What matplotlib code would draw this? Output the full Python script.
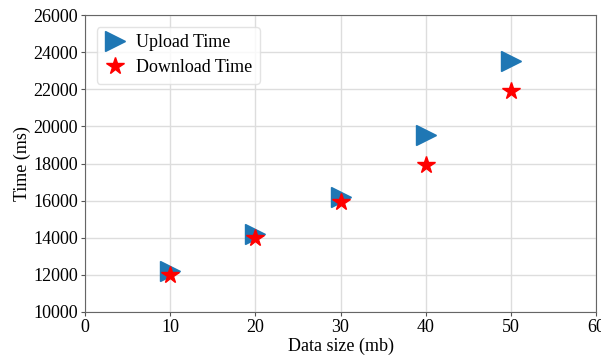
import matplotlib
matplotlib.use("Agg")
import matplotlib.pyplot as plt

plt.rcParams['font.family'] = ['Liberation Serif', 'DejaVu Serif']
plt.rcParams['mathtext.fontset'] = 'stix'

data_size = [10, 20, 30, 40, 50]
upload_time = [12200, 14200, 16200, 19550, 23500]
download_time = [12000, 14000, 15900, 17900, 21900]

fig = plt.figure(figsize=(6.01, 3.58), dpi=100)
ax = fig.add_axes([85 / 601, 1 - 312 / 358, 511 / 601, 297 / 358])

ax.plot(data_size, upload_time, linestyle='none', marker='>', markersize=14.5,
        color='#1f77b4', label='Upload Time')
ax.plot(data_size, download_time, linestyle='none', marker='*', markersize=13,
        color='red', label='Download Time')

ax.set_xlim(0, 60)
ax.set_ylim(10000, 26000)
ax.set_xticks([0, 10, 20, 30, 40, 50, 60])
ax.set_yticks(range(10000, 26001, 2000))
ax.tick_params(labelsize=13, length=3, color='#555555', pad=2)
ax.grid(True, color='#dddddd', linewidth=1)
ax.set_axisbelow(True)
for s in ax.spines.values():
    s.set_color('#666666')

ax.set_xlabel('Data size (mb)', fontsize=13, labelpad=1)
ax.set_ylabel('Time (ms)', fontsize=13, labelpad=2)
ax.legend(loc='upper left', fontsize=13, handlelength=1.2, handletextpad=0.6,
          borderpad=0.4, labelspacing=0.45, framealpha=0.8,
          edgecolor='#dddddd', bbox_to_anchor=(0.005, 0.99))

fig.savefig('out.png', dpi=100)
